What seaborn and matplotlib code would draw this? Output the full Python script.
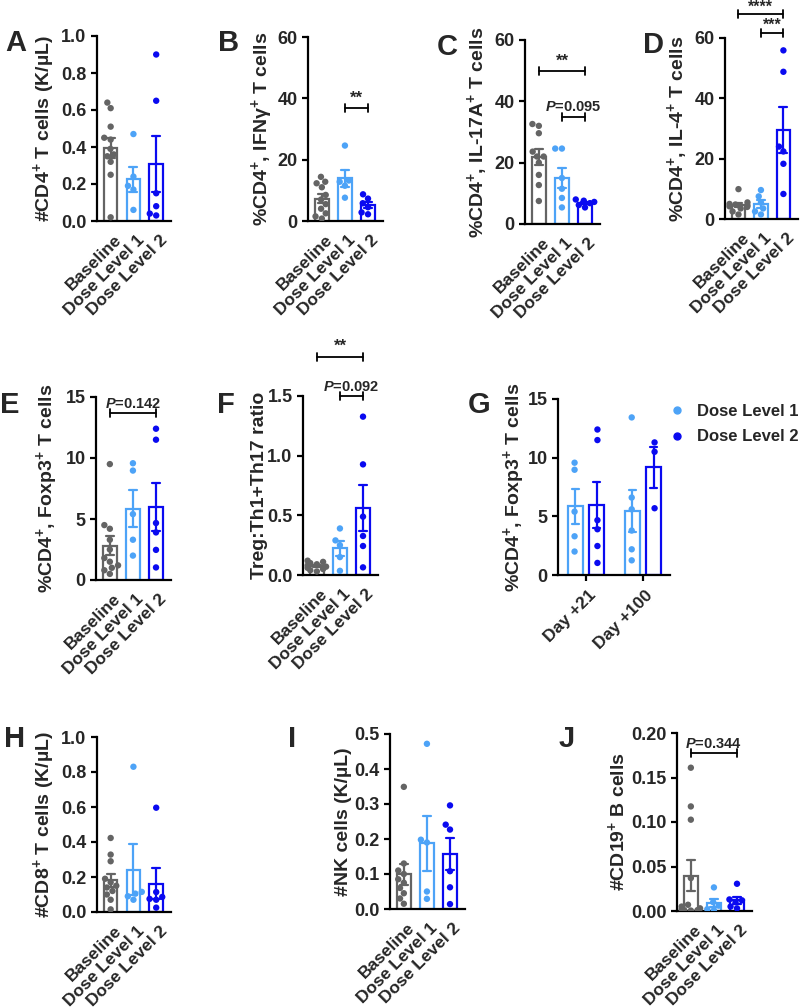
import numpy as np
import pandas as pd
import matplotlib
matplotlib.use("Agg")
import matplotlib.pyplot as plt
import matplotlib.transforms as mtransforms
import seaborn as sns
from matplotlib.lines import Line2D
from matplotlib.ticker import FormatStrFormatter, MultipleLocator

# ---------------- data ----------------
groups = ["Baseline", "Dose Level 1", "Dose Level 2"]

A_base = [0.64, 0.61, 0.51, 0.45, 0.44, 0.39, 0.36, 0.35, 0.32, 0.25, 0.02]
A_d1 = [0.47, 0.24, 0.19, 0.17, 0.06]
A_d2 = [0.90, 0.65, 0.15, 0.08, 0.03, 0.04]

B_base = [14.4, 12.8, 12.3, 11.0, 8.5, 7.0, 5.5, 4.0, 2.5, 1.5, 0.8]
B_d1 = [24.6, 13.2, 12.8, 11.5, 7.6]
B_d2 = [8.7, 7.3, 5.8, 4.5, 2.8, 2.2]

C_base = [32.6, 32.0, 29.6, 23.6, 22.0, 22.0, 20.0, 16.0, 12.7, 7.5]
C_d1 = [24.6, 24.6, 15.0, 11.5, 8.5, 5.4]
C_d2 = [8.0, 7.6, 7.2, 6.8, 6.2, 5.4]

D_base = [9.9, 5.5, 5.0, 4.8, 4.5, 4.2, 4.0, 3.5, 2.5, 1.5]
D_d1 = [9.6, 7.5, 5.5, 3.5, 2.5, 1.5]
D_d2 = [55.9, 48.8, 24.0, 22.4, 18.3, 8.3]

E_base = [9.5, 4.5, 4.2, 3.3, 2.5, 1.8, 1.5, 1.2, 1.0, 0.8, 0.5]
E_d1 = [9.57, 8.97, 5.4, 3.3, 2.0]
E_d2 = [12.4, 11.5, 4.67, 3.9, 2.47, 1.03]

F_base = [0.12, 0.11, 0.10, 0.09, 0.08, 0.07, 0.06, 0.05, 0.04, 0.03]
F_d1 = [0.39, 0.29, 0.25, 0.15, 0.035]
F_d2 = [1.327, 0.927, 0.489, 0.327, 0.243, 0.064]

G_days = ["Day +21", "Day +100"]
G_doses = ["Dose Level 1", "Dose Level 2"]
G_d21_d1 = [9.57, 8.97, 5.4, 3.3, 2.0]
G_d21_d2 = [12.4, 11.5, 4.67, 3.9, 2.47, 1.03]
G_d100_d1 = [13.43, 6.6, 5.6, 3.79, 2.19, 1.25]
G_d100_d2 = [11.3, 10.5, 5.69]

H_base = [0.423, 0.328, 0.29, 0.19, 0.17, 0.15, 0.14, 0.12, 0.10, 0.07, 0.015]
H_d1 = [0.83, 0.115, 0.105, 0.09, 0.07]
H_d2 = [0.596, 0.114, 0.086, 0.075, 0.07, 0.025]

I_base = [0.349, 0.13, 0.11, 0.10, 0.085, 0.075, 0.06, 0.045, 0.03, 0.015]
I_d1 = [0.472, 0.198, 0.19, 0.05, 0.029]
I_d2 = [0.296, 0.241, 0.227, 0.108, 0.062, 0.014]

J_base = [0.161, 0.1175, 0.1026, 0.037, 0.007, 0.005, 0.003, 0.002, 0.001, 0.001, 0.0005]
J_d1 = [0.0265, 0.010, 0.006, 0.002, 0.001]
J_d2 = [0.0306, 0.013, 0.012, 0.010, 0.005, 0.003]

# ---------------- style ----------------
sns.set_style("ticks")
plt.rcParams["font.family"] = ["Liberation Sans", "DejaVu Sans"]
plt.rcParams["font.weight"] = "bold"
plt.rcParams["axes.labelweight"] = "bold"
plt.rcParams["mathtext.fontset"] = "custom"
plt.rcParams["mathtext.rm"] = "Liberation Sans:bold"
plt.rcParams["mathtext.bf"] = "Liberation Sans:bold"
plt.rcParams["mathtext.it"] = "Liberation Sans:italic:bold"
plt.rcParams["mathtext.default"] = "regular"

GRAY = "#646464"
LBLUE = "#4DA3F7"
BLUE = "#0A0AF0"
pal = {"Baseline": GRAY, "Dose Level 1": LBLUE, "Dose Level 2": BLUE}

W, H = 800, 1008
fig = plt.figure(figsize=(8, 10.08), dpi=100)

TICK_FS = 13
XT_FS = 12.5
LAB_FS = 14


def add_ax(x0, x1, ytop, ybot):
    return fig.add_axes([x0 / W, 1 - ybot / H, (x1 - x0) / W, (ybot - ytop) / H])


def style_axis(ax, ymax, step, fmt, ylabel, lab_px, x0, x1, xticks=False):
    ax.set_ylim(0, ymax)
    ax.yaxis.set_major_locator(MultipleLocator(step))
    ax.yaxis.set_major_formatter(FormatStrFormatter(fmt))
    for s in ["top", "right"]:
        ax.spines[s].set_visible(False)
    for s in ["left", "bottom"]:
        ax.spines[s].set_linewidth(1.6)
        ax.spines[s].set_color("black")
    ax.tick_params(axis="y", labelsize=TICK_FS, width=1.6, length=4, color="black")
    ax.tick_params(axis="x", labelsize=XT_FS, width=1.6,
                   length=4 if xticks else 0, pad=5 if xticks else 8,
                   color="black")
    for t in ax.get_yticklabels():
        t.set_fontweight("bold")
    ax.set_xlabel("")
    ax.set_ylabel(ylabel, fontsize=LAB_FS, fontweight="bold")
    ax.yaxis.set_label_coords((lab_px - x0) / (x1 - x0), 0.5)
    shift = mtransforms.ScaledTranslation((2 if xticks else 3) / 100.0, 0,
                                          fig.dpi_scale_trans)
    for t in ax.get_xticklabels():
        t.set_rotation(45)
        t.set_ha("right")
        t.set_rotation_mode("anchor")
        t.set_fontweight("bold")
        t.set_transform(t.get_transform() + shift)


def bar_panel(box, vals, ymax, step, fmt, ylabel, lab_px):
    x0, x1, yt, yb = box
    ax = add_ax(x0, x1, yt, yb)
    df = pd.DataFrame({"group": np.repeat(groups, [len(v) for v in vals]),
                       "val": np.concatenate(vals)})
    sns.barplot(data=df, x="group", y="val", hue="group", order=groups,
                hue_order=groups, palette=pal, fill=False, errorbar="se",
                capsize=0.35, width=0.6, linewidth=1.6,
                err_kws={"linewidth": 1.6}, legend=False, ax=ax)
    sns.swarmplot(data=df, x="group", y="val", hue="group", order=groups,
                  hue_order=groups, palette=pal, size=4.6, legend=False, ax=ax)
    ax.set_xlim(-0.6, 2.65)
    style_axis(ax, ymax, step, fmt, ylabel, lab_px, x0, x1)
    return ax


def bracket(ax, xa, xb, y, text, fs=11, gap=0.6):
    bb = ax.get_window_extent()
    y0, y1 = ax.get_ylim()
    d = 4.0 / bb.height * (y1 - y0) * (fig.dpi / 100.0)
    ax.plot([xa, xa], [y - d, y + d], color="black", lw=1.3, clip_on=False)
    ax.plot([xb, xb], [y - d, y + d], color="black", lw=1.3, clip_on=False)
    ax.plot([xa, xb], [y, y], color="black", lw=1.3, clip_on=False)
    ax.text((xa + xb) / 2, y + d * gap, text, ha="center", va="bottom",
            fontsize=fs, fontweight="bold", clip_on=False)


def letter(x, y, s):
    fig.text(x / W, 1 - y / H, s, fontsize=21, fontweight="bold",
             ha="left", va="baseline")


# ---------------- top row ----------------
axA = bar_panel((97, 171, 36, 221), [A_base, A_d1, A_d2], 1.0, 0.2, "%.1f",
                "#CD4$^{+}$ T cells (K/µL)", 57)
axB = bar_panel((308, 383, 37, 221), [B_base, B_d1, B_d2], 60, 20, "%d",
                "%CD4$^{+}$, IFNγ$^{+}$ T cells", 275)
bracket(axB, 1, 2, 36.7, "**", fs=12)
axC = bar_panel((525, 600, 40, 224), [C_base, C_d1, C_d2], 60, 20, "%d",
                "%CD4$^{+}$, IL-17A$^{+}$ T cells", 490)
bracket(axC, 0, 2, 50, "**", fs=12)
bracket(axC, 1, 2, 35, "$\\mathit{P}$=0.095", fs=10.5)
axD = bar_panel((725, 798, 38, 219), [D_base, D_d1, D_d2], 60, 20, "%d",
                "%CD4$^{+}$, IL-4$^{+}$ T cells", 690)
bracket(axD, 0, 2, 67.8, "****", fs=11.5, gap=0.0)
bracket(axD, 1, 2, 61.7, "***", fs=11.5, gap=0.0)

# ---------------- middle row ----------------
axE = bar_panel((96, 171, 397, 580), [E_base, E_d1, E_d2], 15, 5, "%d",
                "%CD4$^{+}$, Foxp3$^{+}$ T cells", 60)
bracket(axE, 0, 2, 13.67, "$\\mathit{P}$=0.142", fs=10.5)
axF = bar_panel((303, 378, 396, 575), [F_base, F_d1, F_d2], 1.5, 0.5, "%.1f",
                "Treg:Th1+Th17 ratio", 268)
bracket(axF, 0, 2, 1.83, "**", fs=12)
bracket(axF, 1, 2, 1.5, "$\\mathit{P}$=0.092", fs=10.5)

# panel G
gx0, gx1, gyt, gyb = 558, 670, 399, 575
axG = add_ax(gx0, gx1, gyt, gyb)
g_vals = [G_d21_d1, G_d21_d2, G_d100_d1, G_d100_d2]
g_day = [G_days[0], G_days[0], G_days[1], G_days[1]]
g_dose = [G_doses[0], G_doses[1], G_doses[0], G_doses[1]]
dfG = pd.DataFrame({
    "day": np.repeat(g_day, [len(v) for v in g_vals]),
    "dose": np.repeat(g_dose, [len(v) for v in g_vals]),
    "val": np.concatenate(g_vals)})
gpal = {"Dose Level 1": LBLUE, "Dose Level 2": BLUE}
sns.barplot(data=dfG, x="day", y="val", hue="dose", order=G_days,
            hue_order=G_doses, palette=gpal, fill=False, errorbar="se",
            capsize=0.25, width=0.75, gap=0.3, linewidth=1.6,
            err_kws={"linewidth": 1.6}, legend=False, ax=axG)
sns.swarmplot(data=dfG, x="day", y="val", hue="dose", order=G_days,
              hue_order=G_doses, palette=gpal, dodge=True, size=4.6,
              legend=False, ax=axG)
axG.set_xlim(-0.49, 1.47)
style_axis(axG, 15, 5, "%d", "%CD4$^{+}$, Foxp3$^{+}$ T cells", 527,
           gx0, gx1, xticks=True)
handles = [Line2D([], [], marker="o", ls="", color=gpal[d], markersize=5)
           for d in G_doses]
axG.legend(handles, G_doses, loc="upper left", frameon=False,
           bbox_to_anchor=(669 / W, 1 - 404 / H),
           bbox_transform=fig.transFigure, handlelength=1.0,
           handletextpad=0.7, labelspacing=0.62, borderpad=0,
           borderaxespad=0, prop={"weight": "bold", "size": 12})

# ---------------- bottom row ----------------
axH = bar_panel((97, 171, 737, 912), [H_base, H_d1, H_d2], 1.0, 0.2, "%.1f",
                "#CD8$^{+}$ T cells (K/µL)", 57)
axI = bar_panel((390, 465, 734, 909), [I_base, I_d1, I_d2], 0.5, 0.1, "%.1f",
                "#NK cells (K/µL)", 352)
axJ = bar_panel((677, 752, 733, 911), [J_base, J_d1, J_d2], 0.20, 0.05, "%.2f",
                "#CD19$^{+}$ B cells", 628)
bracket(axJ, 0, 2, 0.177, "$\\mathit{P}$=0.344", fs=10.5)

# ---------------- panel letters ----------------
letter(5, 51, "A")
letter(218, 51, "B")
letter(437, 55, "C")
letter(643, 53, "D")
letter(0, 413, "E")
letter(217, 413, "F")
letter(468, 413, "G")
letter(4, 747, "H")
letter(288, 747, "I")
letter(559, 747, "J")

fig.savefig("out.png", dpi=100)
